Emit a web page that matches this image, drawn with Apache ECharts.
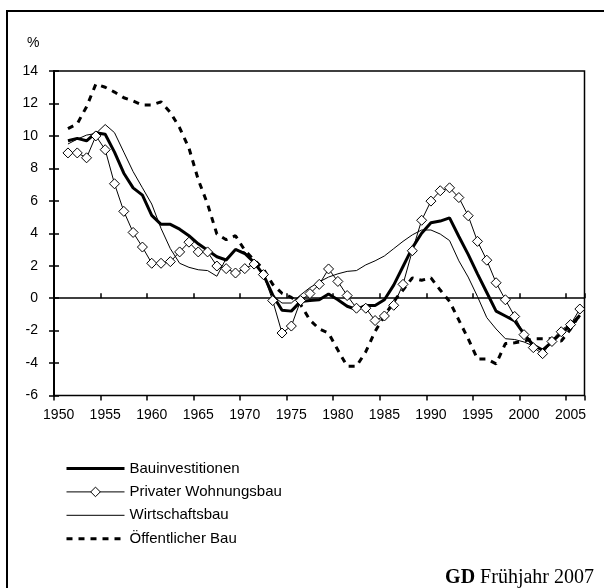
<!DOCTYPE html>
<html>
<head>
<meta charset="utf-8">
<script src="https://cdn.jsdelivr.net/npm/echarts@6/dist/echarts.min.js"></script>
<style>
html, body { margin: 0; padding: 0; background: #fff; }
#chart { width: 604px; height: 588px; }
</style>
</head>
<body>
<div id="chart"></div>
<script>
// Jahre 1950 bis 2006 (1950 ohne Wert)
var years = [];
for (var y = 1950; y <= 2006; y++) years.push(String(y));

var yTicks = [-6, -4, -2, 0, 2, 4, 6, 8, 10, 12, 14];

var bauinvestitionen = [null,
  9.7, 9.85, 9.7, 10.2, 10.1, 9.0, 7.7, 6.8, 6.35, 5.1,
  4.55, 4.55, 4.25, 3.85, 3.35, 2.95, 2.55, 2.35, 3.0, 2.75,
  2.2, 1.45, 0.2, -0.75, -0.8, -0.2, -0.15, -0.1, 0.25, -0.1,
  -0.5, -0.7, -0.45, -0.45, -0.1, 0.8, 1.95, 3.1, 4.0, 4.65,
  4.75, 4.95, 3.8, 2.7, 1.5, 0.35, -0.8, -1.1, -1.4, -2.2,
  -2.9, -3.2, -2.7, -2.15, -1.7, -1.05];

var privaterWohnungsbau = [null,
  8.95, 8.95, 8.65, 10.0, 9.15, 7.05, 5.35, 4.05, 3.15, 2.15,
  2.15, 2.25, 2.85, 3.45, 2.85, 2.85, 1.98, 1.82, 1.55, 1.82,
  2.1, 1.45, -0.15, -2.15, -1.72, -0.15, 0.28, 0.85, 1.8, 1.03,
  0.16, -0.62, -0.62, -1.38, -1.1, -0.44, 0.85, 2.92, 4.8, 5.98,
  6.62, 6.8, 6.2, 5.08, 3.5, 2.34, 0.95, -0.1, -1.13, -2.25,
  -3.05, -3.42, -2.67, -2.07, -1.63, -0.67];

var wirtschaftsbau = [null,
  9.5, 9.8, 10.05, 10.15, 10.7, 10.2, 9.0, 7.8, 6.8, 5.8,
  4.3, 3.05, 2.15, 1.9, 1.75, 1.7, 1.35, 2.45, 2.95, 2.85,
  2.2, 1.4, 0.15, -0.3, -0.3, 0.2, 0.65, 1.0, 1.3, 1.5,
  1.65, 1.7, 2.05, 2.3, 2.6, 3.05, 3.5, 3.9, 4.2, 4.2,
  3.95, 3.55, 2.3, 1.3, 0.1, -1.2, -1.9, -2.5, -2.55, -2.7,
  -2.95, -3.2, -2.6, -1.95, -1.6, -1.2];

var oeffentlicherBau = [null,
  10.45, 10.75, 11.8, 13.2, 13.0, 12.7, 12.35, 12.15, 11.9, 11.9,
  12.1, 11.45, 10.5, 9.25, 7.3, 5.8, 3.95, 3.6, 3.85, 2.95,
  2.35, 1.8, 0.85, 0.3, 0.05, -0.4, -1.35, -1.9, -2.15, -3.2,
  -4.2, -4.2, -3.3, -2.05, -1.1, -0.2, 0.5, 1.25, 1.1, 1.25,
  0.5, -0.2, -1.35, -2.5, -3.75, -3.75, -4.05, -2.8, -2.75, -2.65,
  -2.5, -2.5, -2.5, -2.65, -1.9, -1.0];

var font = 'Liberation Sans, Arial, sans-serif';

var chart = echarts.init(document.getElementById('chart'));

var catAxis = function (extra) {
  return Object.assign({
    type: 'category',
    data: years,
    boundaryGap: true,
    position: 'bottom',
    axisLabel: { show: false },
    axisTick: { show: false },
    axisLine: { show: false },
    splitLine: { show: false }
  }, extra);
};

var valAxis = function (extra) {
  return Object.assign({
    type: 'value',
    min: yTicks[0],
    max: yTicks[yTicks.length - 1],
    interval: 2,
    position: 'left',
    axisLabel: { show: false },
    axisTick: { show: false },
    axisLine: { show: false },
    splitLine: { show: false }
  }, extra);
};

// Legende: Symbol nur beim privaten Wohnungsbau
var noSymbol = { opacity: 0, borderWidth: 0 };

var option = {
  animation: false,
  grid: {
    left: 54, right: 19.5, top: 71, bottom: 192.5,
    show: true, borderColor: '#000', borderWidth: 1.5, backgroundColor: '#fff'
  },
  xAxis: [
    // Beschriftung unten
    catAxis({
      axisLabel: { show: true, interval: 4, color: '#000', fontFamily: font, fontSize: 14, margin: 13 }
    }),
    // Nulllinie mit Strichen nach oben
    catAxis({
      axisLine: { show: true, onZero: true, lineStyle: { color: '#000', width: 1.5 } },
      axisTick: { show: true, interval: 4, inside: true, length: 5, lineStyle: { color: '#000', width: 1.5 } }
    }),
    // Striche nach unten
    catAxis({
      axisLine: { show: false, onZero: true },
      axisTick: { show: true, interval: 4, inside: false, length: 5, lineStyle: { color: '#000', width: 1.5 } }
    })
  ],
  yAxis: [
    valAxis({
      axisLine: { show: true, lineStyle: { color: '#000', width: 2 } },
      axisLabel: { show: true, color: '#000', fontFamily: font, fontSize: 14, margin: 16 },
      axisTick: { show: true, length: 5, lineStyle: { color: '#000', width: 1.5 } }
    }),
    valAxis({
      axisTick: { show: true, inside: true, length: 5, lineStyle: { color: '#000', width: 1.5 } }
    })
  ],
  legend: {
    orient: 'vertical',
    left: 65,
    top: 461,
    padding: 0,
    itemWidth: 58,
    itemHeight: 12,
    itemGap: 8.4,
    textStyle: { color: '#000', fontFamily: font, fontSize: 15 },
    data: [
      { name: 'Bauinvestitionen', itemStyle: noSymbol, lineStyle: { color: '#000', width: 3, type: 'solid' } },
      { name: 'Privater Wohnungsbau', itemStyle: { color: '#fff', borderColor: '#000', borderWidth: 1 },
        lineStyle: { color: '#000', width: 1, type: 'solid' } },
      { name: 'Wirtschaftsbau', itemStyle: noSymbol, lineStyle: { color: '#000', width: 1, type: 'solid' } },
      { name: 'Öffentlicher Bau', itemStyle: noSymbol, lineStyle: { color: '#000', width: 3, type: [6, 6] } }
    ]
  },
  title: {
    text: '{b|GD} Frühjahr 2007',
    right: 5,
    top: 563,
    textStyle: {
      color: '#000', fontFamily: 'Liberation Serif, Times New Roman, serif', fontSize: 20, fontWeight: 'normal',
      rich: { b: { color: '#000', fontFamily: 'Liberation Serif, Times New Roman, serif', fontSize: 20, fontWeight: 'bold' } }
    }
  },
  graphic: [
    { type: 'rect', silent: true, z: -10, shape: { x: 7, y: 11, width: 700, height: 700 },
      style: { fill: 'none', stroke: '#000', lineWidth: 2 } },
    { type: 'text', left: 27, top: 36, style: { text: '%', fill: '#000', font: '14px ' + font } }
  ],
  series: [
    {
      name: 'Öffentlicher Bau', type: 'line', data: oeffentlicherBau, symbol: 'none',
      lineStyle: { color: '#000', width: 3, type: [6, 6] }, itemStyle: { color: '#000' }, z: 2
    },
    {
      name: 'Wirtschaftsbau', type: 'line', data: wirtschaftsbau, symbol: 'none',
      lineStyle: { color: '#000', width: 1 }, itemStyle: { color: '#000' }, z: 3
    },
    {
      name: 'Bauinvestitionen', type: 'line', data: bauinvestitionen, symbol: 'none',
      lineStyle: { color: '#000', width: 3 }, itemStyle: { color: '#000' }, z: 4
    },
    {
      name: 'Privater Wohnungsbau', type: 'line', data: privaterWohnungsbau,
      symbol: 'diamond', symbolSize: 10, showAllSymbol: true,
      lineStyle: { color: '#000', width: 1 },
      itemStyle: { color: '#fff', borderColor: '#000', borderWidth: 1 }, z: 5
    }
  ]
};

chart.setOption(option);
</script>
</body>
</html>
